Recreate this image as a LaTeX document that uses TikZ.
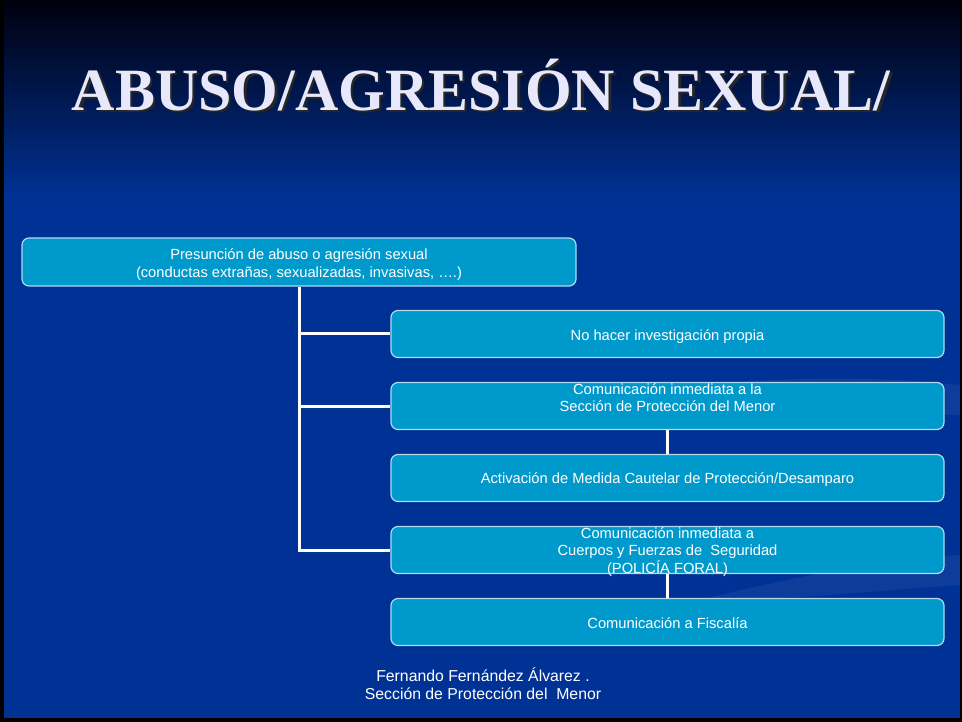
\documentclass[tikz,border=0pt]{standalone}
\usepackage{fontspec}
\setmainfont{Liberation Sans}
\newfontfamily\titlefont{Liberation Serif}
\usepackage{tikz}
\usetikzlibrary{positioning,calc}
\usepackage{xcolor}

\definecolor{slideblue}{RGB}{0,50,150}
\definecolor{slidetop}{RGB}{0,0,14}
\definecolor{slidemid}{RGB}{0,28,92}
\definecolor{boxfill}{RGB}{0,153,204}
\definecolor{boxline}{RGB}{175,218,240}
\definecolor{titlegray}{RGB}{232,232,252}

\begin{document}
\begin{tikzpicture}[x=1pt,y=-1pt]
    \tikzstyle{block} = [rectangle, draw=boxline, line width=1.2pt,
               fill=boxfill, rounded corners=7pt,
               minimum width=553pt, minimum height=47pt, inner sep=0pt]
    \tikzstyle{blocktext} = [text=white, align=center, inner sep=0pt,
               font=\fontsize{14.7}{17.4}\selectfont]
    \tikzstyle{footer} = [text=white, align=center, inner sep=0pt,
               font=\fontsize{15.8}{18}\selectfont]
    \tikzstyle{title} = [font=\titlefont\bfseries\fontsize{60}{72}\selectfont,
               anchor=base, inner sep=0pt]
    \tikzstyle{line} = [draw=white, line width=3pt]

    \useasboundingbox (0,0) rectangle (962,722);

    % Slide background
    \fill[black] (0,0) rectangle (962,722);
    \fill[slideblue] (4,200) rectangle (960,718);
    \shade[top color=slidetop, middle color=slidemid, bottom color=slideblue]
      (4,0) rectangle (960,201);
    \fill[white, opacity=0.05] (470,430) .. controls (640,380) and (820,370) .. (960,385)
      -- (960,415) .. controls (820,410) and (640,420) .. (470,430) -- cycle;
    \fill[white, opacity=0.05] (700,600) .. controls (820,570) and (900,560) .. (960,555)
      -- (960,585) .. controls (880,590) and (800,600) .. (700,600) -- cycle;

    % Title with shadow
    \node[title, text=black!85] (titleshadow) at (483.5,112.5) {ABUSO/AGRESIÓN SEXUAL/};
    \node[title, text=titlegray] (title) at (481,110.5) {ABUSO/AGRESIÓN SEXUAL/};

    % Define boxes
    \node[block, minimum width=554pt, minimum height=48pt] (presuncion) at (299,262) {};
    \node[block] (investigacion) at (667.5,334) {};
    \node[block] (seccion) at (667.5,406) {};
    \node[block] (cautelar) at (667.5,478) {};
    \node[block] (policia) at (667.5,550) {};
    \node[block] (fiscalia) at (667.5,622) {};

    % Draw connectors
    \draw[line] (presuncion.south) |- (investigacion.west);
    \draw[line] (presuncion.south) |- (seccion.west);
    \draw[line] (presuncion.south) |- (policia.west);
    \draw[line] (seccion.south) -- (cautelar.north);
    \draw[line] (policia.south) -- (fiscalia.north);

    % Box texts
    \node[blocktext] (presunciontext) at ($(presuncion)+(0,2.5)$)
      {Presunción de abuso o agresión sexual\\(conductas extrañas, sexualizadas, invasivas, ….)};
    \node[blocktext] (investigaciontext) at ($(investigacion)+(0,2.5)$)
      {No hacer investigación propia};
    \node[blocktext] (secciontext) at ($(seccion)+(0,-8.5)$)
      {Comunicación inmediata a la\\Sección de Protección del Menor};
    \node[blocktext] (cautelartext) at ($(cautelar)+(0,2)$)
      {Activación de Medida Cautelar de Protección/Desamparo};
    \node[blocktext] (policiatext) at ($(policia)+(0,2)$)
      {Comunicación inmediata a\\Cuerpos y Fuerzas de~ Seguridad\\(POLICÍA FORAL)};
    \node[blocktext] (fiscaliatext) at ($(fiscalia)+(0,1.5)$)
      {Comunicación a Fiscalía};

    % Footer
    \node[footer] (autor) at (483,684)
      {Fernando Fernández Álvarez .\\Sección de Protección del~ Menor};
\end{tikzpicture}
\end{document}
